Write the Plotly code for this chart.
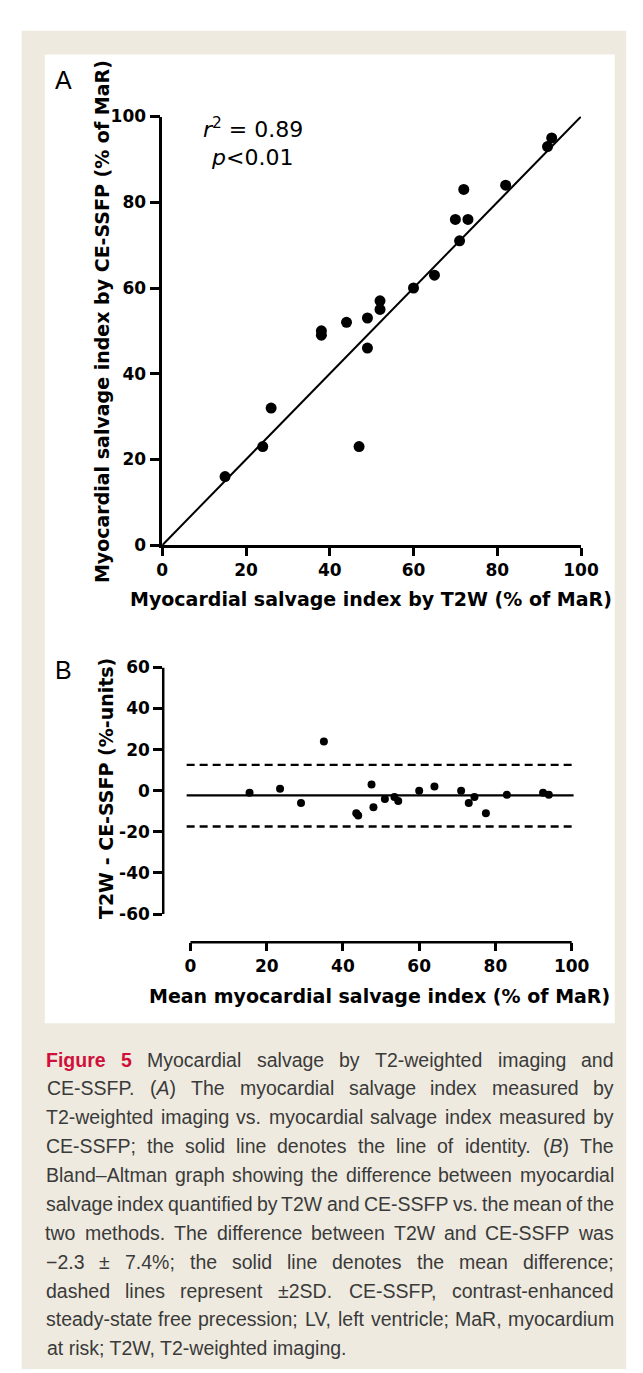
import re
import plotly.graph_objects as go

W, H = 643, 1373

# ---------------- data ----------------
# Panel A: myocardial salvage index, T2W vs CE-SSFP (% of MaR)
t2w_msi = [15, 24, 26, 38, 38, 44, 47, 49, 49, 52, 52, 60, 65, 70, 71, 72, 73, 82, 92, 93]
ssfp_msi = [16, 23, 32, 50, 49, 52, 23, 53, 46, 57, 55, 60, 63, 76, 71, 83, 76, 84, 93, 95]
identity_line = [0, 100]
a_ticks = [0, 20, 40, 60, 80, 100]

# Panel B: Bland-Altman
ba_mean = [15.5, 23.5, 29, 35, 47.5, 43.5, 44, 48, 51, 53.5, 54.5, 60, 64, 71, 73, 74.5, 77.5, 83, 92.5, 94]
ba_diff = [-1, 1, -6, 24, 3, -11, -12, -8, -4, -3, -5, 0, 2, 0, -6, -3, -11, -2, -1, -2]
mean_diff = -2.3
upper_loa = 12.6
lower_loa = -17.4
ref_line_x = [-1, 100.5]
b_xticks = [0, 20, 40, 60, 80, 100]
b_yticks = [-60, -40, -20, 0, 20, 40, 60]
b_yticklabels = ["-60", "-40", "-20", "0", "20", "40", "60"]

caption_lines = [
    "Figure 5 Myocardial salvage by T2-weighted imaging and",
    "CE-SSFP. (<i>A</i>) The myocardial salvage index measured by",
    "T2-weighted imaging vs. myocardial salvage index measured by",
    "CE-SSFP; the solid line denotes the line of identity. (<i>B</i>) The",
    "Bland\u2013Altman graph showing the difference between myocardial",
    "salvage index quantified by T2W and CE-SSFP vs. the mean of the",
    "two methods. The difference between T2W and CE-SSFP was",
    "\u22122.3 \u00b1 7.4%; the solid line denotes the mean difference;",
    "dashed lines represent \u00b12SD. CE-SSFP, contrast-enhanced",
    "steady-state free precession; LV, left ventricle; MaR, myocardium",
    "at risk; T2W, T2-weighted imaging.",
]
label_word_count = 2  # "Figure 5"

# ---------------- helpers ----------------
def fx(px):
    return px / W

def fy(py):
    return 1 - py / H

AXFONT = "DejaVu Sans"
BLACK = "black"

fig = go.Figure()

# Panel A traces
fig.add_trace(go.Scatter(x=identity_line, y=identity_line, mode="lines",
                         line=dict(color=BLACK, width=2), xaxis="x", yaxis="y",
                         hoverinfo="skip", cliponaxis=False))
fig.add_trace(go.Scatter(x=t2w_msi, y=ssfp_msi, mode="markers",
                         marker=dict(color=BLACK, size=11), xaxis="x", yaxis="y",
                         cliponaxis=False))

# Panel B traces
fig.add_trace(go.Scatter(x=ref_line_x, y=[mean_diff, mean_diff], mode="lines",
                         line=dict(color=BLACK, width=2.3), xaxis="x2", yaxis="y2",
                         cliponaxis=False))
for lv in (upper_loa, lower_loa):
    fig.add_trace(go.Scatter(x=ref_line_x, y=[lv, lv], mode="lines",
                             line=dict(color=BLACK, width=2.3, dash="8px,5px"),
                             xaxis="x2", yaxis="y2", cliponaxis=False))
fig.add_trace(go.Scatter(x=ba_mean, y=ba_diff, mode="markers",
                         marker=dict(color=BLACK, size=8), xaxis="x2", yaxis="y2",
                         cliponaxis=False))

tickfont = dict(family=AXFONT, size=17, color=BLACK, weight="bold")
common = dict(showgrid=False, zeroline=False, ticks="outside", tickwidth=2.5,
              tickcolor=BLACK, tickfont=tickfont, fixedrange=True)

# Panel B pixel geometry
bx0_px, bx100_px = 183.3, 579.3
b_left_px, b_right_px = 155, 583
bxs = (bx100_px - bx0_px) / 100.0
b_y60_px, b_ym60_px = 659, 909.3
b_top_px, b_bottom_px = 659, 938
bys = (b_ym60_px - b_y60_px) / 120.0

fig.update_layout(
    width=W, height=H, margin=dict(l=0, r=0, t=0, b=0),
    paper_bgcolor="white", plot_bgcolor="rgba(0,0,0,0)", showlegend=False,
    xaxis=dict(domain=[fx(154), fx(589)], range=[0, 100], anchor="y",
               tickvals=a_ticks, ticklen=8, showline=True, linewidth=2.5,
               linecolor=BLACK, **common),
    yaxis=dict(domain=[fy(535), fy(100)], range=[0, 100], anchor="x",
               tickvals=a_ticks, ticklen=10, showline=True, linewidth=2.5,
               linecolor=BLACK, **common),
    xaxis2=dict(domain=[fx(b_left_px), fx(b_right_px)],
                range=[(b_left_px - bx0_px) / bxs, (b_right_px - bx0_px) / bxs],
                anchor="y2", tickvals=b_xticks, ticklen=8, showline=False, **common),
    yaxis2=dict(domain=[fy(b_bottom_px), fy(b_top_px)],
                range=[60 - (b_bottom_px - b_y60_px) / bys, 60],
                anchor="x2", tickvals=b_yticks, ticktext=b_yticklabels,
                ticklen=9, showline=False, **common),
)

shapes = [
    # beige figure box
    dict(type="rect", xref="paper", yref="paper", x0=fx(8), x1=fx(636), y0=fy(1371), y1=fy(13),
         fillcolor="#eeeadf", line=dict(width=0), layer="below"),
    # white chart panel
    dict(type="rect", xref="paper", yref="paper", x0=fx(32), x1=fx(624), y0=fy(1020), y1=fy(37),
         fillcolor="white", line=dict(width=0), layer="below"),
    # Panel B detached axis lines
    dict(type="line", xref="x2 domain", yref="y2", x0=0, x1=0,
         y0=min(b_yticks), y1=max(b_yticks), line=dict(color=BLACK, width=2.5)),
    dict(type="line", xref="x2", yref="y2 domain", x0=min(b_xticks), x1=max(b_xticks),
         y0=0, y1=0, line=dict(color=BLACK, width=2.5)),
]
fig.update_layout(shapes=shapes)

ann = []
title_font = dict(family=AXFONT, size=19, color=BLACK, weight="bold")
ann.append(dict(text="Myocardial salvage index by CE-SSFP (% of MaR)", x=fx(91), y=fy(308),
                xref="paper", yref="paper", textangle=-90, showarrow=False,
                xanchor="center", yanchor="middle", font=title_font))
ann.append(dict(text="Myocardial salvage index by T2W (% of MaR)", x=fx(371), y=fy(590),
                xref="paper", yref="paper", showarrow=False,
                xanchor="center", yanchor="middle", font=title_font))
ann.append(dict(text="T2W - CE-SSFP (%-units)", x=fx(95), y=fy(782),
                xref="paper", yref="paper", textangle=-90, showarrow=False,
                xanchor="center", yanchor="middle", font=title_font))
ann.append(dict(text="Mean myocardial salvage index (% of MaR)", x=fx(380), y=fy(992),
                xref="paper", yref="paper", showarrow=False,
                xanchor="center", yanchor="middle", font=title_font))
panel_font = dict(family="Liberation Sans", size=25, color=BLACK)
ann.append(dict(text="A", x=fx(40), y=fy(63), xref="paper", yref="paper", showarrow=False,
                xanchor="left", yanchor="middle", font=panel_font))
ann.append(dict(text="B", x=fx(41), y=fy(662), xref="paper", yref="paper", showarrow=False,
                xanchor="left", yanchor="middle", font=panel_font))
stat_font = dict(family="DejaVu Sans", size=22, color=BLACK)
ann.append(dict(text="<i>r</i><sup>2</sup> = 0.89", x=fx(194), y=fy(112), xref="paper",
                yref="paper", showarrow=False, xanchor="left", yanchor="middle", font=stat_font))
ann.append(dict(text="<i>p</i>&lt;0.01", x=fx(203), y=fy(142), xref="paper",
                yref="paper", showarrow=False, xanchor="left", yanchor="middle", font=stat_font))

# ---------------- caption (justified by word placement, Arial metrics) ----------------
AW = {' ': .278, 'a': .556, 'b': .556, 'c': .5, 'd': .556, 'e': .556, 'f': .278, 'g': .556,
      'h': .556, 'i': .222, 'j': .222, 'k': .5, 'l': .222, 'm': .833, 'n': .556, 'o': .556,
      'p': .556, 'q': .556, 'r': .333, 's': .5, 't': .278, 'u': .556, 'v': .5, 'w': .722,
      'x': .5, 'y': .5, 'z': .5, 'A': .667, 'B': .667, 'C': .722, 'D': .722, 'E': .667,
      'F': .611, 'G': .778, 'H': .722, 'I': .278, 'L': .556, 'M': .833, 'P': .667, 'R': .722,
      'S': .667, 'T': .611, 'V': .667, 'W': .944, '.': .278, ',': .278, ';': .278, '(': .333,
      ')': .333, '-': .333, '\u2013': .556, '\u2212': .584, '\u00b1': .584, '%': .889}
AWB = {'F': .611, 'i': .278, 'g': .611, 'u': .611, 'r': .389, 'e': .556, '5': .556}
CAP_SIZE = 19.5
CAP_K = 1.04          # rendered width / nominal metric width
cap_left, cap_right = 33, 623
line0_y, line_step = 1057, 29.3
CAP_COLOR = "#3a3a3a"
LAB_COLOR = "#d0103a"

def word_em(wd, bold=False):
    plain = re.sub(r"<[^>]+>", "", wd)
    table = AWB if bold else AW
    return sum(table.get(c, AW.get(c, 0.556)) for c in plain) * CAP_K

for li, line in enumerate(caption_lines):
    ly = line0_y + li * line_step
    if li == len(caption_lines) - 1:
        ann.append(dict(text=line, x=fx(cap_left - 1), y=fy(ly), xref="paper", yref="paper",
                        showarrow=False, xanchor="left", yanchor="middle",
                        font=dict(family="Liberation Sans", size=CAP_SIZE, color=CAP_COLOR)))
        continue
    words = line.split(" ")
    bolds = [(li == 0 and i < label_word_count) for i in range(len(words))]
    ems = [word_em(w, b) for w, b in zip(words, bolds)]
    avail = cap_right - cap_left
    natural = (sum(ems) + 0.22 * (len(words) - 1)) * CAP_SIZE
    size = CAP_SIZE if natural <= avail else CAP_SIZE * avail / natural
    widths = [e * size for e in ems]
    gap = (avail - sum(widths)) / (len(words) - 1)
    pos = cap_left
    for i, (wd, wv, b) in enumerate(zip(words, widths, bolds)):
        f = dict(family="Liberation Sans", size=size, color=LAB_COLOR if b else CAP_COLOR)
        if b:
            f["weight"] = "bold"
        ann.append(dict(text=wd, x=fx(pos + wv / 2), y=fy(ly), xref="paper", yref="paper",
                        showarrow=False, xanchor="center", yanchor="middle", font=f))
        pos += wv + gap

fig.update_layout(annotations=ann)
fig.write_html("out.html")
